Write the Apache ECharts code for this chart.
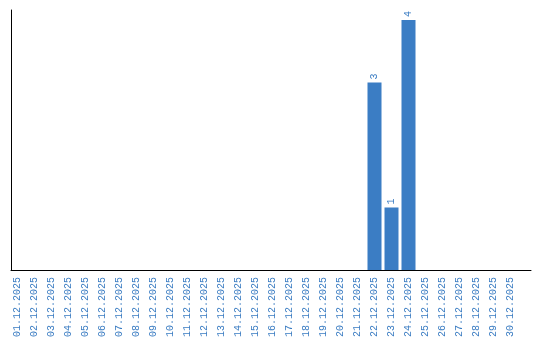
<!DOCTYPE html>
<html><head><meta charset="utf-8">
<script src="https://cdn.jsdelivr.net/npm/echarts@6/dist/echarts.min.js"></script>
<style>html,body{margin:0;padding:0;background:#fff}#c{width:540px;height:340px}</style>
</head><body><div id="c"></div>
<script>
const categories = ["01.12.2025","02.12.2025","03.12.2025","04.12.2025","05.12.2025","06.12.2025","07.12.2025","08.12.2025","09.12.2025","10.12.2025","11.12.2025","12.12.2025","13.12.2025","14.12.2025","15.12.2025","16.12.2025","17.12.2025","18.12.2025","19.12.2025","20.12.2025","21.12.2025","22.12.2025","23.12.2025","24.12.2025","25.12.2025","26.12.2025","27.12.2025","28.12.2025","29.12.2025","30.12.2025"];
const values = [null,null,null,null,null,null,null,null,null,null,null,null,null,null,null,null,null,null,null,null,null,3,1,4,null,null,null,null,null,null];
const chart = echarts.init(document.getElementById('c'), null, {renderer:'canvas'});
chart.setOption({
  animation:false,
  grid:[{left:9,width:510,top:10,bottom:70,containLabel:false},
        {left:11,right:9,top:10,bottom:70,containLabel:false}],
  xAxis:[{type:'category',data:categories,gridIndex:0,
    axisLine:{show:false},axisTick:{show:false},
    axisLabel:{rotate:90,interval:0,color:'#3a7cc2',fontFamily:'Liberation Mono',fontSize:10,margin:7}},
    {type:'value',gridIndex:1,min:0,max:1,axisLine:{show:true,lineStyle:{color:'#000',width:1}},
     axisTick:{show:false},axisLabel:{show:false},splitLine:{show:false}}],
  yAxis:[{type:'value',gridIndex:0,min:0,max:4.16,axisLine:{show:false},
    axisTick:{show:false},axisLabel:{show:false},splitLine:{show:false}},
    {type:'value',gridIndex:1,min:0,max:1,axisLine:{show:true,lineStyle:{color:'#000',width:1}},
    axisTick:{show:false},axisLabel:{show:false},splitLine:{show:false}}],
  series:[{type:'bar',data:values,barWidth:14,xAxisIndex:0,yAxisIndex:0,itemStyle:{color:'#3b7dc4'},
    label:{show:true,position:'top',rotate:90,align:'left',verticalAlign:'middle',distance:3,color:'#3a7cc2',fontFamily:'Liberation Mono',fontSize:10}}]
});
</script></body></html>
